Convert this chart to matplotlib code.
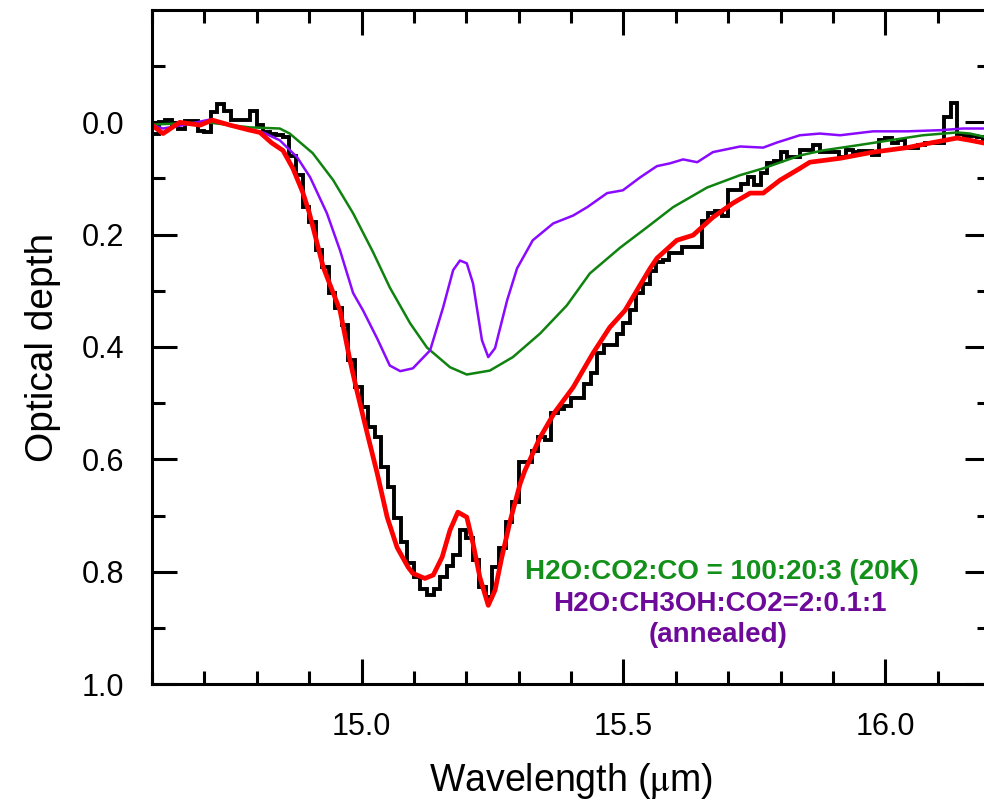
import numpy as np
import matplotlib
matplotlib.use("Agg")
import matplotlib.pyplot as plt
from matplotlib.ticker import MultipleLocator, FixedLocator

plt.rcParams['font.family'] = ['Liberation Sans', 'DejaVu Sans']
plt.rcParams['mathtext.fontset'] = 'stix'

# observed spectrum (binned, 0.0125 um bins from 14.6 to 16.2)
obs_tau = [0.020, 0.000, -0.004, 0.005, 0.012, -0.003, -0.003, 0.015, 0.018, -0.018,
           -0.032, -0.020, -0.004, -0.004, -0.004, -0.020, 0.005, 0.018, 0.020, 0.022,
           0.027, 0.060, 0.094, 0.150, 0.178, 0.228, 0.258, 0.304, 0.331, 0.361,
           0.424, 0.472, 0.507, 0.543, 0.561, 0.614, 0.650, 0.705, 0.748, 0.785,
           0.810, 0.830, 0.842, 0.830, 0.810, 0.790, 0.770, 0.725, 0.740, 0.780,
           0.828, 0.845, 0.792, 0.757, 0.712, 0.676, 0.605, 0.605, 0.585, 0.560,
           0.566, 0.518, 0.510, 0.505, 0.490, 0.490, 0.465, 0.447, 0.410, 0.397,
           0.397, 0.377, 0.358, 0.335, 0.303, 0.287, 0.265, 0.248, 0.245, 0.233,
           0.233, 0.222, 0.222, 0.222, 0.175, 0.162, 0.157, 0.166, 0.121, 0.121,
           0.109, 0.098, 0.112, 0.091, 0.073, 0.068, 0.053, 0.062, 0.062, 0.050,
           0.050, 0.041, 0.052, 0.053, 0.053, 0.062, 0.050, 0.053, 0.051, 0.051,
           0.059, 0.032, 0.028, 0.037, 0.032, 0.046, 0.046, 0.041, 0.036, 0.036,
           0.036, -0.009, -0.034, 0.020, 0.025, 0.025, 0.027, 0.030]
obs_start, obs_end = 14.6, 16.2

# total fit (red)
fit_wl = [14.600, 14.621, 14.653, 14.692, 14.715, 14.749, 14.787, 14.806, 14.829, 14.850,
          14.869, 14.888, 14.900, 14.927, 14.959, 14.978, 14.991, 15.011, 15.030, 15.049,
          15.068, 15.089, 15.098, 15.121, 15.137, 15.154, 15.169, 15.184, 15.201, 15.213,
          15.226, 15.242, 15.255, 15.268, 15.284, 15.303, 15.312, 15.341, 15.369, 15.404,
          15.442, 15.474, 15.503, 15.526, 15.551, 15.564, 15.602, 15.633, 15.671, 15.709,
          15.742, 15.767, 15.799, 15.837, 15.856, 15.914, 15.977, 16.042, 16.085, 16.137,
          16.162, 16.200]
fit_tau = [0.005, 0.020, 0.000, 0.005, -0.004, 0.005, 0.014, 0.018, 0.037, 0.050,
           0.082, 0.125, 0.160, 0.258, 0.335, 0.424, 0.477, 0.554, 0.625, 0.703,
           0.757, 0.792, 0.803, 0.812, 0.806, 0.774, 0.726, 0.694, 0.703, 0.750,
           0.810, 0.860, 0.833, 0.774, 0.709, 0.643, 0.620, 0.561, 0.516, 0.472,
           0.411, 0.365, 0.335, 0.299, 0.260, 0.242, 0.210, 0.201, 0.169, 0.144,
           0.126, 0.126, 0.103, 0.082, 0.071, 0.064, 0.053, 0.045, 0.037, 0.028,
           0.032, 0.039]

# H2O:CO2:CO = 100:20:3 (green)
green_wl = [14.600, 14.705, 14.787, 14.844, 14.863, 14.907, 14.946, 14.984, 15.022, 15.054,
            15.093, 15.125, 15.169, 15.201, 15.245, 15.289, 15.341, 15.392, 15.436, 15.494,
            15.545, 15.595, 15.660, 15.723, 15.767, 15.837, 15.881, 15.946, 16.009, 16.072,
            16.137, 16.162, 16.200]
green_tau = [0.004, 0.000, 0.009, 0.011, 0.020, 0.055, 0.103, 0.162, 0.231, 0.294,
             0.358, 0.401, 0.436, 0.449, 0.442, 0.418, 0.376, 0.326, 0.269, 0.223,
             0.187, 0.151, 0.116, 0.094, 0.082, 0.059, 0.050, 0.041, 0.032, 0.023,
             0.018, 0.020, 0.028]

# H2O:CH3OH:CO2 = 2:0.1:1 annealed (purple)
purple_wl = [14.600, 14.621, 14.659, 14.711, 14.768, 14.812, 14.844, 14.877, 14.902, 14.934,
             14.959, 14.984, 15.003, 15.030, 15.054, 15.074, 15.098, 15.131, 15.156, 15.175,
             15.188, 15.201, 15.213, 15.230, 15.242, 15.255, 15.278, 15.297, 15.327, 15.366,
             15.404, 15.431, 15.469, 15.499, 15.532, 15.564, 15.589, 15.614, 15.641, 15.671,
             15.723, 15.767, 15.793, 15.837, 15.875, 15.914, 15.977, 16.042, 16.105, 16.148,
             16.200]
purple_tau = [0.005, 0.011, 0.005, -0.005, 0.009, 0.018, 0.032, 0.062, 0.098, 0.162,
              0.228, 0.304, 0.335, 0.385, 0.433, 0.443, 0.438, 0.406, 0.329, 0.263,
              0.246, 0.251, 0.287, 0.388, 0.418, 0.402, 0.317, 0.260, 0.210, 0.180,
              0.166, 0.151, 0.126, 0.121, 0.098, 0.078, 0.073, 0.066, 0.071, 0.053,
              0.043, 0.045, 0.036, 0.023, 0.020, 0.023, 0.016, 0.016, 0.014, 0.011,
              0.011]

fig = plt.figure(figsize=(9.84, 8.11), dpi=100)
ax = fig.add_axes([152 / 984, 127 / 811, 838 / 984, 674 / 811])

edges = np.linspace(obs_start, obs_end, len(obs_tau) + 1)
ax.stairs(obs_tau, edges, color='black', lw=2.8, baseline=None)
ax.plot(green_wl, green_tau, color='#0f820f', lw=1.8)
ax.plot(purple_wl, purple_tau, color='#8a0aff', lw=1.8)
ax.plot(fit_wl, fit_tau, color='#ff0000', lw=3.4)

ax.set_xlim(14.6, 16.2)
ax.set_ylim(1.0, -0.2)

ax.xaxis.set_major_locator(FixedLocator([15.0, 15.5, 16.0]))
ax.xaxis.set_minor_locator(MultipleLocator(0.1))
ax.yaxis.set_major_locator(FixedLocator([0.0, 0.2, 0.4, 0.6, 0.8, 1.0]))
ax.yaxis.set_minor_locator(FixedLocator([-0.1, 0.1, 0.3, 0.5, 0.7, 0.9]))
ax.xaxis.set_major_formatter(plt.FormatStrFormatter('%.1f'))
ax.yaxis.set_major_formatter(plt.FormatStrFormatter('%.1f'))

ax.tick_params(which='both', direction='in', top=True, right=True, width=2.2, labelsize=22)
ax.tick_params(which='major', length=18)
ax.tick_params(which='minor', length=9.5)
ax.tick_params(axis='y', which='major', pad=20)
ax.tick_params(axis='x', which='major', pad=20)
for s in ax.spines.values():
    s.set_linewidth(2.2)

ax.set_xlabel(r'Wavelength ($\mathrm{\mu}$m)', fontsize=27, labelpad=14)
ax.set_ylabel('Optical depth', fontsize=28, labelpad=15)

ax.text(15.688, 0.801, 'H2O:CO2:CO = 100:20:3 (20K)', color='#13901a', fontsize=20,
        fontweight='bold', ha='center', va='center')
ax.text(15.684, 0.858, 'H2O:CH3OH:CO2=2:0.1:1', color='#6e0a9a', fontsize=20,
        fontweight='bold', ha='center', va='center')
ax.text(15.681, 0.913, '(annealed)', color='#6e0a9a', fontsize=20,
        fontweight='bold', ha='center', va='center')

fig.savefig('out.png', dpi=100)
